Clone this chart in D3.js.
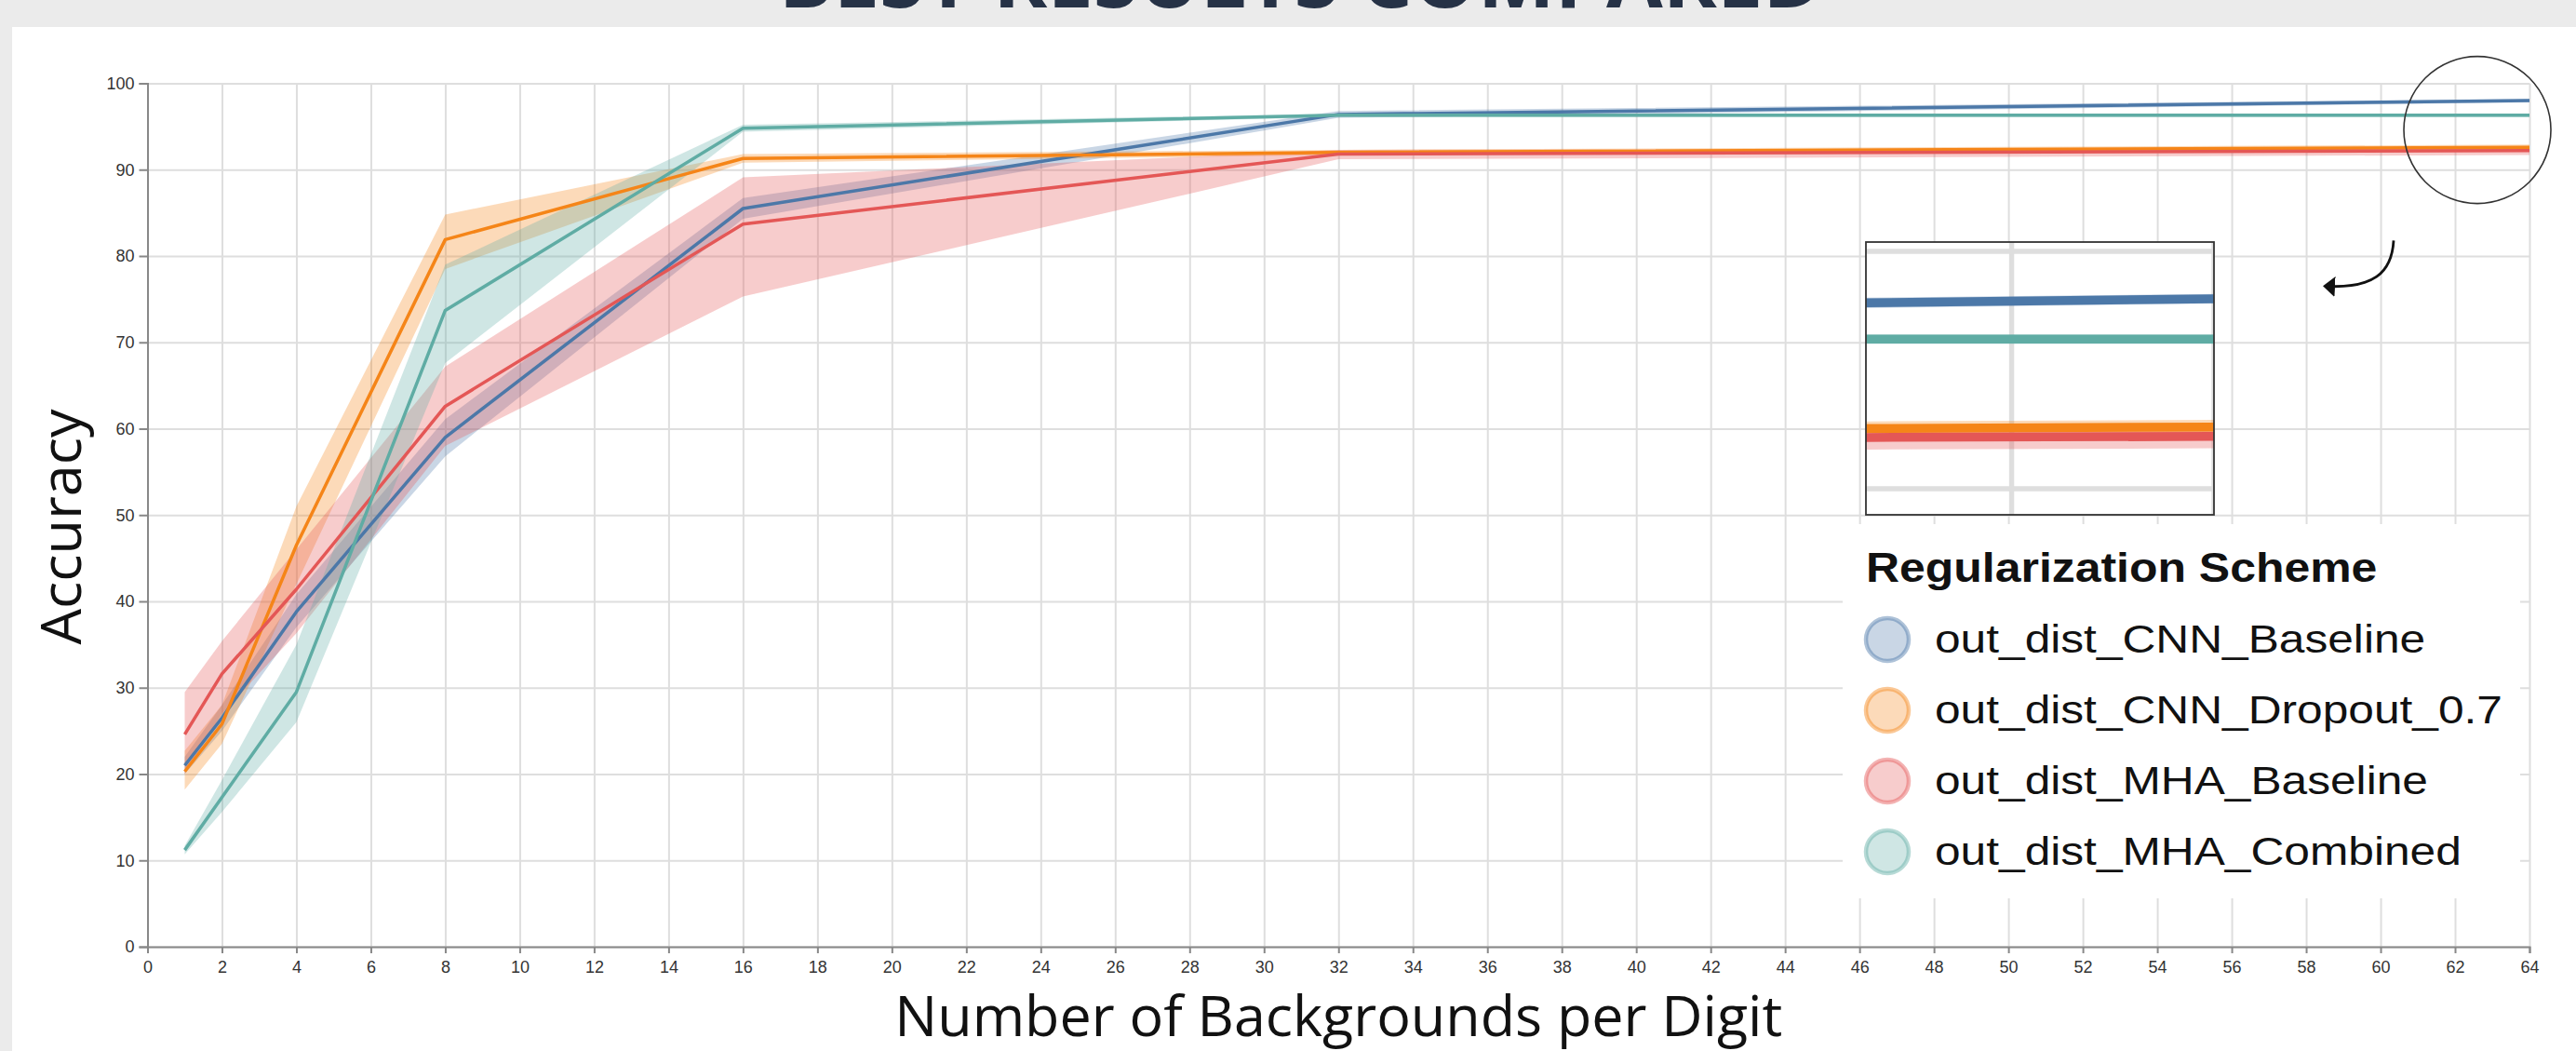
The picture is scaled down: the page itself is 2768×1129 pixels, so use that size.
<html>
<head>
  <title>Best Results Compared</title>
  <script src="https://d3js.org/d3.v7.min.js"></script>
  <style>
    body {
        margin: 0;
        background: #ebebeb;
        overflow: hidden;
    }
    .gridlines line {
        stroke: #dedede;
        stroke-width: 2px;
    }
    .gridlines .domain {
        stroke: none;
    }
    .axis text {
        font-family: "Liberation Sans", Arial, sans-serif;
        font-size: 18px;
        fill: #333;
    }
    .axis line, .axis .domain {
        stroke: #888;
        stroke-width: 2px;
    }
    .axis-title {
        font-family: "Open Sans", sans-serif;
        font-size: 61px;
        fill: #111;
    }
    .legend text {
        font-family: "Liberation Sans", Arial, sans-serif;
        fill: #111;
    }
  </style>
</head>

<body>
    <svg id="chart" width="2768" height="1129"></svg>
    <script>
        // data
        const xValues = [1, 2, 4, 8, 16, 32, 64];
        const seriesNames = ["out_dist_CNN_Baseline", "out_dist_CNN_Dropout_0.7",
                             "out_dist_MHA_Baseline", "out_dist_MHA_Combined"];
        const seriesColors = ["#4c78a8", "#f58518", "#e45756", "#5faca4"];

        const cnnBaselineMean = [21.0, 26.5, 38.8, 59.0, 85.5, 96.4, 98.0];
        const cnnBaselineLow  = [20.0, 25.0, 37.0, 56.8, 84.3, 96.0, 97.8];
        const cnnBaselineHigh = [22.0, 28.0, 40.8, 61.1, 86.7, 96.8, 98.2];

        const cnnDropoutMean = [20.3, 25.8, 46.5, 81.9, 91.3, 92.0, 92.6];
        const cnnDropoutLow  = [18.2, 23.5, 42.0, 78.5, 90.8, 91.7, 92.3];
        const cnnDropoutHigh = [22.7, 28.0, 51.0, 84.8, 91.8, 92.3, 92.9];

        const mhaBaselineMean = [24.6, 31.6, 41.4, 62.6, 83.7, 91.8, 92.2];
        const mhaBaselineLow  = [20.0, 27.0, 36.3, 58.0, 75.3, 91.2, 91.7];
        const mhaBaselineHigh = [29.5, 35.4, 46.0, 67.2, 89.1, 92.3, 92.5];

        const mhaCombinedMean = [11.2, 17.3, 29.5, 73.7, 94.8, 96.3, 96.3];
        const mhaCombinedLow  = [10.7, 15.6, 26.0, 67.6, 94.4, 96.1, 96.1];
        const mhaCombinedHigh = [11.7, 19.3, 35.0, 79.0, 95.2, 96.5, 96.5];

        const xTicks = [0, 2, 4, 6, 8, 10, 12, 14, 16, 18, 20, 22, 24, 26, 28, 30, 32,
                        34, 36, 38, 40, 42, 44, 46, 48, 50, 52, 54, 56, 58, 60, 62, 64];
        const yTicks = [0, 10, 20, 30, 40, 50, 60, 70, 80, 90, 100];

        // zoomed-in window shown in the inset (data units)
        const insetXDomain = [60.56, 64];
        const insetYDomain = [88.9, 100.39];
        const insetGridX = [62, 64];
        const insetGridY = [90, 100];

        const means = [cnnBaselineMean, cnnDropoutMean, mhaBaselineMean, mhaCombinedMean];
        const lows = [cnnBaselineLow, cnnDropoutLow, mhaBaselineLow, mhaCombinedLow];
        const highs = [cnnBaselineHigh, cnnDropoutHigh, mhaBaselineHigh, mhaCombinedHigh];

        let series = seriesNames.map((name, i) => ({
            name: name,
            color: seriesColors[i],
            values: xValues.map((x, j) => ({x: x, mean: means[i][j], lo: lows[i][j], hi: highs[i][j]}))
        }));

        const svg = d3.select("#chart");
        const width = +svg.attr("width");
        const height = +svg.attr("height");

        // white panel under the grey page title strip
        svg.append("rect")
            .attr("x", 13).attr("y", 29)
            .attr("width", width - 13).attr("height", height - 29)
            .attr("fill", "white");

        // page title, only its lower edge shows in the picture
        svg.append("text")
            .text("BEST RESULTS COMPARED")
            .attr("x", 1398)
            .attr("y", 8)
            .attr("text-anchor", "middle")
            .style("font-family", "'Open Sans', sans-serif")
            .style("font-weight", "bold")
            .style("font-size", "88px")
            .style("fill", "#263246");

        const margin = {top: 89.5, right: 50, bottom: 112, left: 158.5};
        const plotRight = width - margin.right;
        const plotBottom = height - margin.bottom;

        const xScale = d3.scaleLinear().domain([0, 64]).range([margin.left, plotRight]);
        const yScale = d3.scaleLinear().domain([0, 100]).range([plotBottom, margin.top]);

        // gridlines
        svg.append("g")
            .attr("class", "gridlines")
            .attr("transform", `translate(0,${plotBottom})`)
            .call(d3.axisBottom(xScale).tickValues(xTicks)
                    .tickSize(-(plotBottom - margin.top)).tickFormat(""));
        svg.append("g")
            .attr("class", "gridlines")
            .attr("transform", `translate(${margin.left},0)`)
            .call(d3.axisLeft(yScale).tickValues(yTicks)
                    .tickSize(-(plotRight - margin.left)).tickFormat(""));

        function drawSeries(g, xs, ys, lineWidth) {
            let area = d3.area()
                .x(d => xs(d.x))
                .y0(d => ys(d.lo))
                .y1(d => ys(d.hi));
            let line = d3.line()
                .x(d => xs(d.x))
                .y(d => ys(d.mean));

            g.selectAll("path.band").data(series)
                .join("path")
                .attr("class", "band")
                .attr("d", d => area(d.values))
                .attr("fill", d => d.color)
                .attr("opacity", 0.3);

            g.selectAll("path.mean").data(series)
                .join("path")
                .attr("class", "mean")
                .attr("d", d => line(d.values))
                .attr("fill", "none")
                .attr("stroke", d => d.color)
                .attr("stroke-width", lineWidth)
                .attr("stroke-linejoin", "round");
        }

        drawSeries(svg.append("g"), xScale, yScale, 3.5);

        // axes
        svg.append("g")
            .attr("class", "axis")
            .attr("transform", `translate(${margin.left},0)`)
            .call(d3.axisLeft(yScale).tickValues(yTicks).tickSize(9).tickPadding(5));
        svg.append("g")
            .attr("class", "axis")
            .attr("transform", `translate(0,${plotBottom})`)
            .call(d3.axisBottom(xScale).tickValues(xTicks).tickSize(7).tickPadding(8));

        svg.append("text")
            .attr("class", "axis-title")
            .attr("text-anchor", "middle")
            .attr("x", (margin.left + plotRight) / 2)
            .attr("y", 1113)
            .text("Number of Backgrounds per Digit");
        svg.append("text")
            .attr("class", "axis-title")
            .attr("text-anchor", "middle")
            .attr("transform", "translate(87,566) rotate(-90)")
            .text("Accuracy");

        // circle around the end of the lines
        svg.append("circle")
            .attr("cx", xScale(62.6))
            .attr("cy", yScale(94.6))
            .attr("r", 79)
            .attr("fill", "none")
            .attr("stroke", "#333")
            .attr("stroke-width", 1.6);

        // curved arrow pointing to the inset
        svg.append("defs").append("marker")
            .attr("id", "arrowhead")
            .attr("viewBox", "0 -11 13 22")
            .attr("refX", 11).attr("refY", 0)
            .attr("markerWidth", 13).attr("markerHeight", 22)
            .attr("markerUnits", "userSpaceOnUse")
            .attr("orient", "auto")
            .append("path")
            .attr("d", "M0,-11L13,0L0,11Z")
            .attr("fill", "#111");
        let arrowPath = d3.path();
        arrowPath.moveTo(xScale(60.35), yScale(81.8));
        arrowPath.bezierCurveTo(xScale(60.3), yScale(78.0), xScale(59.8), yScale(76.2), xScale(58.5), yScale(76.5));
        svg.append("path")
            .attr("d", arrowPath.toString())
            .attr("fill", "none")
            .attr("stroke", "#111")
            .attr("stroke-width", 2.8)
            .attr("marker-end", "url(#arrowhead)");

        // inset: magnified view of the circled area
        const inset = {x: 2005, y: 260, w: 374, h: 293};
        const ix = d3.scaleLinear().domain(insetXDomain).range([inset.x, inset.x + inset.w]);
        const iy = d3.scaleLinear().domain(insetYDomain).range([inset.y + inset.h, inset.y]);
        const zoomFactor = (ix(1) - ix(0)) / (xScale(1) - xScale(0));

        svg.select("defs").append("clipPath").attr("id", "insetClip")
            .append("rect")
            .attr("x", inset.x).attr("y", inset.y)
            .attr("width", inset.w).attr("height", inset.h);

        let insetG = svg.append("g").attr("clip-path", "url(#insetClip)");
        insetG.append("rect")
            .attr("x", inset.x).attr("y", inset.y)
            .attr("width", inset.w).attr("height", inset.h)
            .attr("fill", "white");
        insetG.selectAll("line.gx").data(insetGridX)
            .join("line")
            .attr("x1", d => ix(d)).attr("x2", d => ix(d))
            .attr("y1", inset.y).attr("y2", inset.y + inset.h)
            .attr("stroke", "#dedede").attr("stroke-width", 2 * zoomFactor);
        insetG.selectAll("line.gy").data(insetGridY)
            .join("line")
            .attr("y1", d => iy(d)).attr("y2", d => iy(d))
            .attr("x1", inset.x).attr("x2", inset.x + inset.w)
            .attr("stroke", "#dedede").attr("stroke-width", 2 * zoomFactor);
        drawSeries(insetG.append("g"), ix, iy, 3.5 * zoomFactor);
        svg.append("rect")
            .attr("x", inset.x).attr("y", inset.y)
            .attr("width", inset.w).attr("height", inset.h)
            .attr("fill", "none")
            .attr("stroke", "#333")
            .attr("stroke-width", 1.8);

        // legend
        let legend = svg.append("g").attr("class", "legend");
        legend.append("rect")
            .attr("x", 1980).attr("y", 563)
            .attr("width", 728).attr("height", 402)
            .attr("fill", "white");
        legend.append("text")
            .attr("transform", "translate(2005,625) scale(1.11,1)")
            .style("font-size", "45px")
            .style("font-weight", "bold")
            .text("Regularization Scheme");

        let items = legend.selectAll("g.item").data(series)
            .join("g")
            .attr("class", "item")
            .attr("transform", (d, i) => `translate(0,${687 + i * 76})`);
        items.append("circle")
            .attr("cx", 2028).attr("cy", 0).attr("r", 23)
            .attr("fill", d => d.color)
            .attr("fill-opacity", 0.3)
            .attr("stroke", d => d.color)
            .attr("stroke-opacity", 0.45)
            .attr("stroke-width", 4.5);
        items.append("text")
            .attr("transform", "translate(2079,14) scale(1.155,1)")
            .style("font-size", "43px")
            .text(d => d.name);
    </script>
</body>
</html>
